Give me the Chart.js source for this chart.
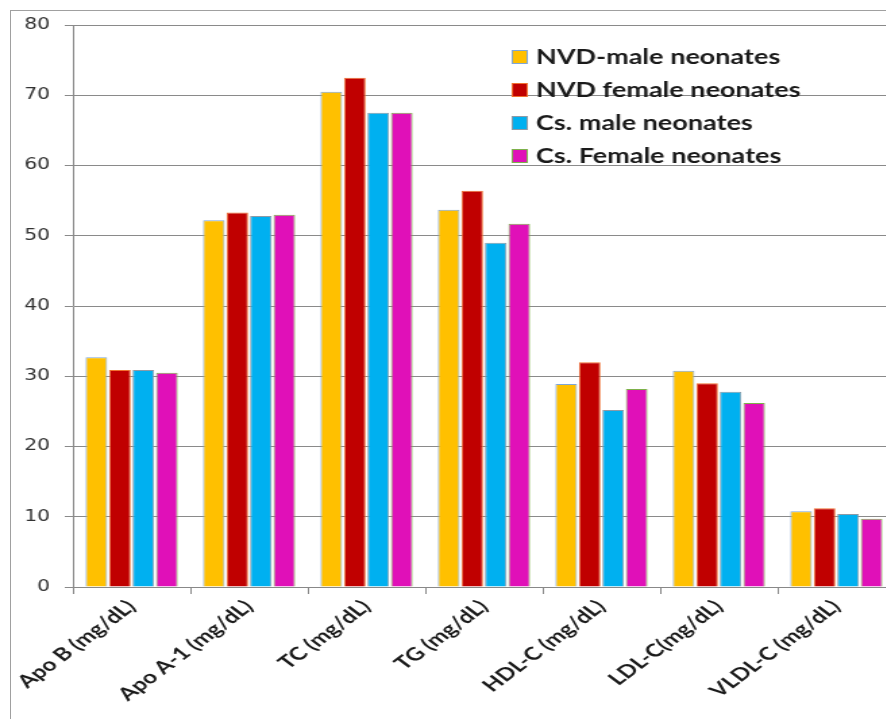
<!DOCTYPE html>
<html>
<head>
<meta charset="utf-8">
<script src="https://cdn.jsdelivr.net/npm/chart.js@4"></script>
<style>
    html, body { margin: 0; padding: 0; background: #fff; overflow: hidden; width: 886px; height: 719px; }
    /* the original picture is stretched sideways, so the chart is drawn narrow and widened */
    #wrap { position: absolute; left: 0; top: 0; width: 667px; height: 719px; transform: scaleX(1.35); transform-origin: 0 0; }
    #frame { position: absolute; left: 10px; top: 10px; width: 900px; height: 720px; border: 1px solid #a0a0a0; pointer-events: none; }
</style>
</head>
<body>
<div id="frame"></div>
<div id="wrap"><canvas id="lipidChart"></canvas></div>
<script>
// ===========================
// DATA
// ===========================

const categories = ["Apo B (mg/dL)", "Apo A-1 (mg/dL)", "TC (mg/dL)", "TG (mg/dL)", "HDL-C (mg/dL)", "LDL-C(mg/dL)", "VLDL-C (mg/dL)"];

const seriesNames = ["NVD-male neonates", "NVD female neonates", "Cs. male neonates", "Cs. Female neonates"];

const nvdMale = [32.7, 52.2, 70.5, 53.7, 28.9, 30.8, 10.8];
const nvdFemale = [30.9, 53.3, 72.5, 56.4, 32.0, 29.0, 11.2];
const csMale = [30.9, 52.8, 67.5, 49.0, 25.2, 27.8, 10.4];
const csFemale = [30.5, 53.0, 67.5, 51.7, 28.2, 26.2, 9.7];

const yTicks = [0, 10, 20, 30, 40, 50, 60, 70, 80];

// ===========================
// LEGEND (drawn inside plot)
// ===========================

const innerLegend = {
    id: "innerLegend",
    afterDraw(chart) {
        const c = chart.ctx;
        c.save();
        c.font = "bold 20px Lato";
        c.textBaseline = "middle";
        chart.data.datasets.forEach((ds, i) => {
            const y = 57 + i * 33;
            c.fillStyle = ds.backgroundColor;
            c.fillRect(379, y - 7, 12, 14);
            c.strokeStyle = ds.borderColor;
            c.lineWidth = 1;
            c.strokeRect(379.5, y - 6.5, 11, 13);
            c.fillStyle = "#1a1a1a";
            c.fillText(ds.label, 397, y + 1);
        });
        c.restore();
    }
};

// ===========================
// CHART
// ===========================

const ctx = document.getElementById("lipidChart").getContext("2d");

new Chart(ctx, {
    type: "bar",
    data: {
        labels: categories,
        datasets: [
            { label: seriesNames[0], data: nvdMale, backgroundColor: "#FFC000", borderColor: "#7EA6D8" },
            { label: seriesNames[1], data: nvdFemale, backgroundColor: "#C00000", borderColor: "#F07030" },
            { label: seriesNames[2], data: csMale, backgroundColor: "#00B0F0", borderColor: "#8C9AA6" },
            { label: seriesNames[3], data: csFemale, backgroundColor: "#E010B8", borderColor: "#7DB14A" }
        ]
    },
    options: {
        responsive: true,
        maintainAspectRatio: false,
        animation: false,
        devicePixelRatio: 1,
        categoryPercentage: 0.8,
        barPercentage: 0.92,
        borderWidth: 1,
        layout: { padding: { top: 25, left: 0, right: 4, bottom: 0 } },
        plugins: {
            legend: { display: false },
            tooltip: { enabled: false }
        },
        scales: {
            x: {
                afterFit(scale) { scale.height = 132; },
                grid: { drawOnChartArea: false, color: "#888", tickLength: 7 },
                border: { color: "#888" },
                ticks: {
                    minRotation: 45,
                    maxRotation: 45,
                    color: "#1a1a1a",
                    padding: 2,
                    font: { family: "Lato", size: 18, weight: "bold" }
                }
            },
            y: {
                min: 0,
                max: 80,
                afterFit(scale) { scale.width = 54; },
                afterBuildTicks(scale) { scale.ticks = yTicks.map(v => ({ value: v })); },
                grid: { color: "#8a8a8a", tickLength: 6 },
                border: { color: "#8a8a8a" },
                ticks: {
                    color: "#333",
                    padding: 11,
                    font: { family: "DejaVu Sans", size: 15 }
                }
            }
        }
    },
    plugins: [innerLegend]
});
</script>
</body>
</html>
